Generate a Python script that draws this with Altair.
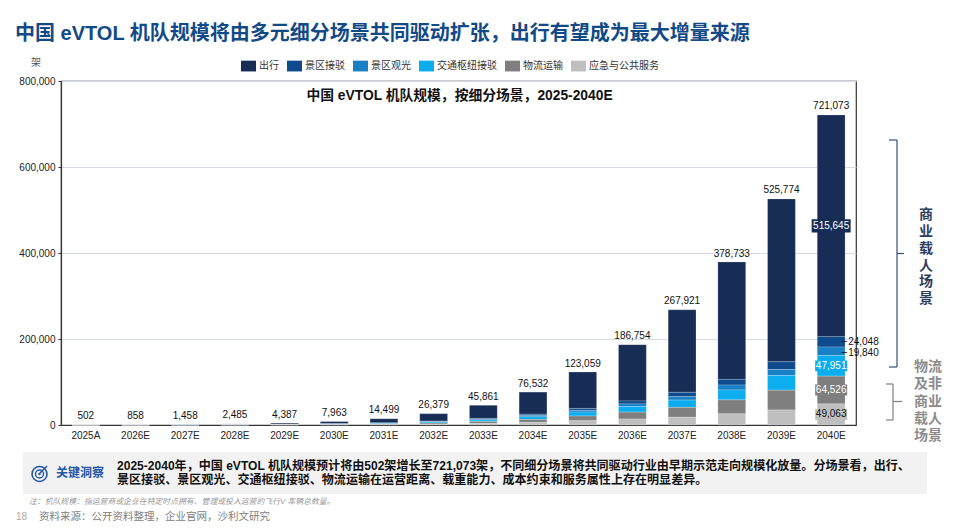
import altair as alt
import pandas as pd

FONT = "Liberation Sans, Noto Sans CJK SC, sans-serif"
NAVY = "#172D56"

years = ["2025A","2026E","2027E","2028E","2029E","2030E","2031E","2032E","2033E","2034E","2035E","2036E","2037E","2038E","2039E","2040E"]
totals = [502,858,1458,2485,4387,7963,14499,26379,45861,76532,123059,186754,267921,378733,525774,721073]
segments = ["出行","景区接驳","景区观光","交通枢纽接驳","物流运输","应急与公共服务"]
colors = [NAVY,"#0F4A8C","#1A80C6","#0CADEE","#7F7F7F","#BFBFBF"]
chuxing = [302,538,928,1565,2787,5063,9599,17379,30461,51532,84559,130754,191921,273233,378774,515645]
jiebo = [30,50,80,140,250,450,700,1200,2000,3200,4500,7000,10000,13000,18000,24048]
guanguang = [30,40,70,110,200,350,600,1000,1800,2800,4000,6000,8000,11500,14000,19840]
jiaotong = [50,80,130,230,400,700,1200,2200,3600,6000,9000,13000,17000,23000,34000,47951]
wuliu = [50,90,150,260,450,800,1400,2600,4500,7000,11000,16000,23000,32500,46000,64526]
yingji = [40,60,100,180,300,600,1000,2000,3500,6000,10000,14000,18000,26000,35000,49063]
series = [chuxing,jiebo,guanguang,jiaotong,wuliu,yingji]

W, H, PL, PT = 795, 344, 53, 73
OX, OY = 8 + PL, 8 + PT
def X(v): return v - OX
def Y(v): return v - OY

rows = []
for s, vals, in zip(segments, series):
    for y, v in zip(years, vals):
        rows.append({"year": y, "seg": s, "value": v, "rank": segments.index(s)})
df = pd.DataFrame(rows)
tot = pd.DataFrame({"year": years, "total": totals})

band = alt.Scale(paddingInner=0.44, paddingOuter=0.22)
y_scale = alt.Scale(domain=[0, 800000], nice=False)
x_axis = alt.Axis(labelAngle=0, labelFontSize=10, labelColor="#222", labelPadding=5,
                  ticks=False, domainColor="#333", domainWidth=1.2, labelFont=FONT, title=None)
y_axis = alt.Axis(values=[0,200000,400000,600000,800000], format=",.0f", labelFontSize=10,
                  labelColor="#222", labelFont=FONT, grid=True, gridColor="#D6DAEA", gridWidth=1,
                  tickSize=3, tickColor="#333", domainColor="#333", domainWidth=1.2, labelPadding=3, title=None)
x_plain = alt.X("year:N", sort=years, scale=band, axis=x_axis)
def y_plain(f): return alt.Y(f, scale=y_scale, axis=y_axis)

bars = alt.Chart(df).mark_bar(stroke="#ffffff", strokeWidth=0.4, strokeOpacity=0.5).encode(
    x=x_plain,
    y=alt.Y("value:Q", stack="zero", scale=y_scale, axis=y_axis),
    color=alt.Color("seg:N", sort=segments,
                    scale=alt.Scale(domain=segments, range=colors),
                    legend=alt.Legend(title=None, orient="none", legendX=X(241), legendY=Y(58.5),
                                      direction="horizontal", columns=6, columnPadding=8,
                                      symbolType="M-1,-0.72H1V0.72H-1Z", symbolSize=225, symbolStrokeWidth=0,
                                      labelFontSize=10, labelColor="#333", labelOffset=3, labelFont=FONT,
                                      padding=0)),
    order=alt.Order("rank:Q", sort="descending"),
)

total_labels = alt.Chart(tot).mark_text(fontSize=10, dy=-8.5, color="#111", font=FONT).encode(
    x=x_plain, y=y_plain("total:Q"), text=alt.Text("total:Q", format=","))

# Labels on the 2040E bar, centred on their segments
last = {s: v[-1] for s, v in zip(segments, series)}
cum, mids = 0, {}
for s in reversed(segments):
    mids[s] = cum + last[s] / 2
    cum += last[s]

boxed = [("出行", NAVY, "#ffffff", 39), ("交通枢纽接驳", "#0CADEE", "#ffffff", 32),
         ("物流运输", "#7F7F7F", "#ffffff", 32), ("应急与公共服务", "#BFBFBF", "#111111", 32)]
layers = [bars, total_labels]
for s, bg, fg, w in boxed:
    d = pd.DataFrame({"year": ["2040E"], "mid": [mids[s]], "v": [last[s]]})
    layers.append(alt.Chart(d).mark_point(shape="M-1,-0.34H1V0.34H-1Z", filled=True, opacity=1, color=bg,
                                          size=w * w, strokeWidth=0).encode(
        x=x_plain, y=y_plain("mid:Q")))
    layers.append(alt.Chart(d).mark_text(fontSize=10, color=fg, font=FONT).encode(
        x=x_plain, y=y_plain("mid:Q"), text=alt.Text("v:Q", format=",")))

for s, dy in [("景区接驳", 0), ("景区观光", 1.5)]:
    d = pd.DataFrame({"year": ["2040E"], "mid": [mids[s]], "v": [last[s]]})
    layers.append(alt.Chart(d).mark_text(fontSize=10, color="#111", font=FONT, align="left", dx=17, dy=dy).encode(
        x=x_plain, y=y_plain("mid:Q"), text=alt.Text("v:Q", format=",")))
    layers.append(alt.Chart(d).mark_text(fontSize=10, color="#111", font=FONT, align="center", dx=13, dy=dy - 0.5, text="–").encode(
        x=x_plain, y=y_plain("mid:Q")))

def one():
    return alt.Data(values=[{"t": 1}])

def label(text, x, y, size=10, color="#111", bold=False, align="left", italic=False):
    kw = {}
    if italic:
        kw["fontStyle"] = "italic"
    return alt.Chart(alt.Data(values=[{"t": text}])).mark_text(
        fontSize=size, color=color, font=FONT, fontWeight="bold" if bold else "normal",
        align=align, baseline="middle", **kw
    ).encode(x=alt.value(X(x)), y=alt.value(Y(y)), text="t:N")

def rule(x1, y1, x2, y2, color, w=1.2):
    return alt.Chart(one()).mark_rule(color=color, strokeWidth=w).encode(
        x=alt.value(X(x1)), x2=alt.value(X(x2)), y=alt.value(Y(y1)), y2=alt.value(Y(y2)))

def ring(x, y, d, color, w=1.5, filled=False):
    return alt.Chart(one()).mark_point(shape="circle", size=d * d, color=color, strokeWidth=w,
                                       filled=filled, opacity=1).encode(
        x=alt.value(X(x)), y=alt.value(Y(y)))

# Callout panel
layers.append(alt.Chart(one()).mark_rect(color="#F2F2F2").encode(
    x=alt.value(X(23)), x2=alt.value(X(927)), y=alt.value(Y(452)), y2=alt.value(Y(494))))
BLUE = "#2358A6"
layers += [ring(39.5, 474, 15, BLUE, 1.6), ring(39.5, 474, 8, BLUE, 1.4), ring(39.5, 474, 2.5, BLUE, 1, True),
           rule(40, 473, 47, 466, BLUE, 1.5)]
layers.append(label("关键洞察", 56, 473, 12, BLUE, True))
layers.append(label("2025-2040年，中国 eVTOL 机队规模预计将由502架增长至721,073架，不同细分场景将共同驱动行业由早期示范走向规模化放量。分场景看，出行、",
                    117, 466, 12.05, "#111", True))
layers.append(label("景区接驳、景区观光、交通枢纽接驳、物流运输在运营距离、载重能力、成本约束和服务属性上存在明显差异。",
                    117, 480, 12.05, "#111", True))

# Page texts
layers.append(label("中国 eVTOL 机队规模将由多元细分场景共同驱动扩张，出行有望成为最大增量来源", 15, 34, 20, "#114A86", True))
layers.append(label("架", 36, 63, 10, "#555", False, "center"))
layers.append(label("中国 eVTOL 机队规模，按细分场景，2025-2040E", 459.5, 96, 13.8, "#111", True, "center"))
layers.append(label("注：机队规模：指运营商或企业在特定时点拥有、管理或投入运营的飞行V 车辆总数量。", 29, 502, 7.85, "#999", False, "left", True))
layers.append(label("18", 16, 516.5, 10, "#AAA"))
layers.append(label("资料来源：公开资料整理，企业官网，沙利文研究", 39, 516.5, 10.5, "#808080"))

# Brackets
C1, C2 = "#34507F", "#7F7F7F"
layers += [rule(889, 140, 897, 140, C1), rule(897, 140, 897, 367, C1), rule(889, 367, 897, 367, C1), rule(897, 253.5, 904, 253.5, C1)]
layers += [rule(886, 384, 893, 384, C2), rule(893, 384, 893, 420, C2), rule(886, 420, 893, 420, C2), rule(893, 401.5, 902, 401.5, C2)]

for ch, yy in zip("商业载人场景", [215, 232, 249, 265.5, 282, 298.5]):
    layers.append(label(ch, 926, yy, 14, "#2E3D5C", True, "center"))
for t, yy in zip(["物流", "及非", "商业", "载人", "场景"], [366.5, 384, 401.5, 418.5, 435.5]):
    layers.append(label(t, 928, yy, 14, "#8C8C8C", True, "center"))

chart = alt.layer(*layers).properties(
    width=W, height=H,
    autosize=alt.AutoSizeParams(type="none"),
    padding={"left": PL, "top": PT, "right": 89, "bottom": 104},
).configure_view(stroke="#333", strokeWidth=1.2)

chart.save("out.html", embed_options={"renderer": "svg", "actions": False})
